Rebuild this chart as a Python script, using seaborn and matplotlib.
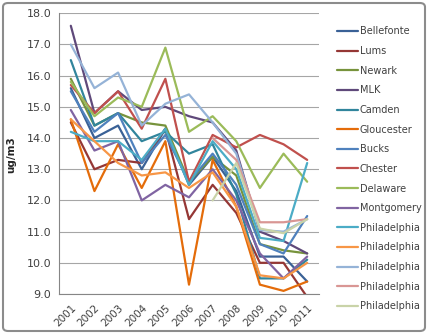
import numpy as np
import pandas as pd
import matplotlib
matplotlib.use("Agg")
import matplotlib.pyplot as plt
from matplotlib.patches import FancyBboxPatch
from matplotlib.lines import Line2D
import seaborn as sns

years = ["2001", "2002", "2003", "2004", "2005", "2006", "2007", "2008", "2009", "2010", "2011"]
nan = np.nan

bellefonte = [15.6, 14.0, 14.4, 13.0, 14.3, 12.5, 13.4, 12.3, 10.2, 10.2, 9.4]
lums       = [14.5, 13.0, 13.3, 13.2, 14.3, 11.4, 12.5, 11.6, 10.0, 10.0, 8.9]
newark     = [15.9, 14.4, 14.8, 14.5, 14.4, 12.6, 13.4, 12.8, 10.6, 10.4, 10.3]
mlk        = [17.6, 14.8, 15.5, 14.9, 15.0, 14.7, 14.5, 13.6, 11.0, 10.7, 10.3]
camden     = [16.5, 14.4, 14.8, 13.9, 14.2, 13.5, 13.8, 12.2, 9.5, 9.5, 10.1]
gloucester = [14.6, 12.3, 13.8, 12.4, 13.9, 9.3, 13.3, 11.8, 9.3, 9.1, 9.4]
bucks      = [15.5, 14.2, 14.8, 13.2, 14.1, 12.6, 13.5, 12.5, 10.6, 10.3, 11.5]
chester    = [15.7, 14.8, 15.5, 14.3, 15.9, 12.6, 14.1, 13.7, 14.1, 13.8, 13.3]
delaware   = [15.8, 14.7, 15.3, 15.0, 16.9, 14.2, 14.7, 13.9, 12.4, 13.5, 12.6]
montgomery = [14.9, 13.6, 13.9, 12.0, 12.5, 12.1, 13.0, 12.0, 10.3, 9.5, 10.2]
phila1     = [14.2, 13.9, 13.9, 13.3, 14.3, 12.5, 13.9, 13.0, 10.8, 10.7, 13.2]
phila2     = [14.6, 13.9, 13.2, 12.8, 12.9, 12.4, 12.9, 11.8, 9.6, 9.5, 10.0]
phila3     = [17.0, 15.6, 16.1, 14.4, 15.1, 15.4, 14.5, 13.5, 11.05, 11.0, 11.4]
phila4     = [nan, nan, nan, nan, nan, nan, 14.0, 13.3, 11.3, 11.3, 11.4]
phila5     = [nan, nan, nan, nan, nan, nan, 12.0, 13.2, 11.1, 10.95, 11.4]

names = ["Bellefonte", "Lums", "Newark", "MLK", "Camden", "Gloucester", "Bucks",
         "Chester", "Delaware", "Montgomery", "Philadelphia", "Philadelphia",
         "Philadelphia", "Philadelphia", "Philadelphia"]
series = [bellefonte, lums, newark, mlk, camden, gloucester, bucks, chester,
          delaware, montgomery, phila1, phila2, phila3, phila4, phila5]
colors = ["#3A6196", "#953735", "#77933C", "#5F497A", "#31859C", "#E46C0A",
          "#4F81BD", "#C0504D", "#9BBB59", "#8064A2", "#4BACC6", "#F79646",
          "#95B3D7", "#D99694", "#C9D3A8"]

rows = []
for i, (nm, vals) in enumerate(zip(names, series)):
    key = f"s{i:02d}"
    for j, v in enumerate(vals):
        rows.append({"series": key, "x": j, "value": v})
df = pd.DataFrame(rows).dropna()
keys = [f"s{i:02d}" for i in range(len(names))]
palette = dict(zip(keys, colors))

sns.set_style("white")
fig = plt.figure(figsize=(4.28, 3.34), dpi=100)
ax = fig.add_axes([59/428, 1-294/334, 260/428, (294-13.3)/334])

sns.lineplot(data=df, x="x", y="value", hue="series", hue_order=keys,
             palette=palette, estimator=None, linewidth=1.6, ax=ax, legend=False)

ax.set_xlim(-0.5, 10.5)
ax.set_ylim(9, 18)
ax.set_yticks(np.arange(9, 18.01, 1.0))
ax.set_yticklabels([f"{v:.1f}" for v in np.arange(9, 18.01, 1.0)],
                   fontsize=8, color="#404040")
ax.set_xticks(range(len(years)))
ax.set_xticklabels(years, rotation=45, ha="right", rotation_mode="anchor",
                   fontsize=7.5, color="#404040")
ax.set_xticks(np.arange(-0.5, 10.6, 1.0), minor=True)
ax.tick_params(axis="x", which="major", length=0, pad=6)
ax.tick_params(axis="x", which="minor", length=3.5, color="#868686", width=0.8, direction="out")
ax.tick_params(axis="y", length=3.5, color="#868686", width=0.8, direction="out", pad=2)
ax.grid(axis="y", color="#A6A6A6", linewidth=0.8)
ax.set_axisbelow(True)
for s in ["top", "right"]:
    ax.spines[s].set_visible(False)
ax.spines["left"].set_color("#868686")
ax.spines["bottom"].set_color("#868686")
ax.spines["left"].set_linewidth(0.8)
ax.spines["bottom"].set_linewidth(0.8)
ax.set_xlabel("")
ax.set_ylabel("")

fig.text(11/428, 1-155/334, "ug/m3", rotation=90, ha="center", va="center",
         fontsize=7.5, fontweight="bold", color="#262626")

handles = [Line2D([], [], color=c, linewidth=1.6) for c in colors]
leg = fig.legend(handles, names, loc="upper left", bbox_to_anchor=(337/428, 1-26.5/334),
                 frameon=False, fontsize=7, handlelength=2.2, handletextpad=0.15,
                 labelspacing=0.99, borderaxespad=0, borderpad=0)
for t in leg.get_texts():
    t.set_color("#404040")

border = FancyBboxPatch((3/428, 3/334), 422/428, 328/334,
                        boxstyle="round,pad=0,rounding_size=0.012",
                        transform=fig.transFigure, fill=False,
                        edgecolor="#8C8C8C", linewidth=1.5)
fig.patches.append(border)

fig.savefig("out.png", dpi=100)
